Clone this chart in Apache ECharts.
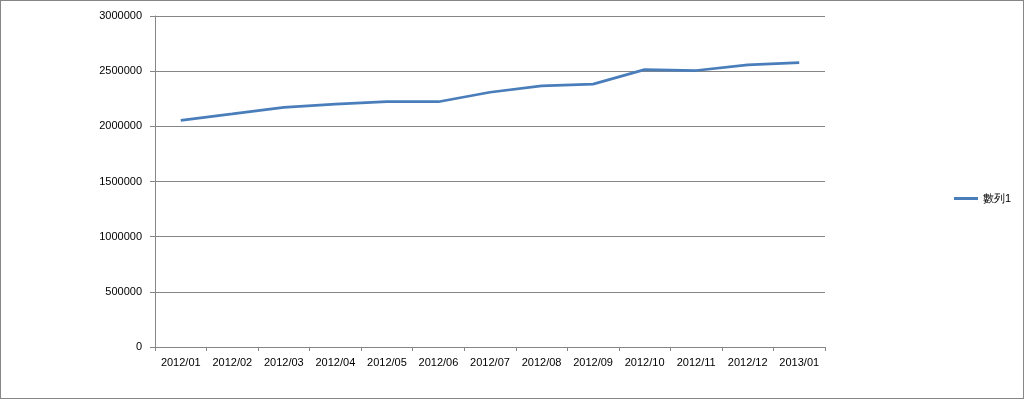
<!DOCTYPE html>
<html>
<head>
<meta charset="utf-8">
<script src="https://cdn.jsdelivr.net/npm/echarts@6/dist/echarts.min.js"></script>
<style>
html,body{margin:0;padding:0;background:#fff;}
#c{width:1022px;height:397px;border:1px solid #868686;}
</style>
</head>
<body>
<div id="c"></div>
<script>
const categories = ['2012/01','2012/02','2012/03','2012/04','2012/05','2012/06','2012/07','2012/08','2012/09','2012/10','2012/11','2012/12','2013/01'];
const seriesName = '數列1';
const values = [2055000, 2112000, 2172000, 2202000, 2223000, 2223000, 2309000, 2366000, 2382000, 2514000, 2506000, 2557000, 2578000];
const yTicks = [0, 500000, 1000000, 1500000, 2000000, 2500000, 3000000];

const chart = echarts.init(document.getElementById('c'));
const font = 'Liberation Sans, Arial, sans-serif';
chart.setOption({
  animation: false,
  grid: {left: 154, right: 198, top: 15, bottom: 51, containLabel: false},
  legend: {
    show: true,
    left: 948, top: 187,
    orient: 'vertical',
    icon: 'rect', itemWidth: 24, itemHeight: 3, itemGap: 4,
    textStyle: {fontFamily: font, fontSize: 11, color: '#000'},
    data: [seriesName]
  },
  xAxis: {
    type: 'category',
    data: categories,
    boundaryGap: true,
    axisLine: {lineStyle: {color: '#868686', width: 1}},
    axisTick: {show: true, length: 4, inside: false, alignWithLabel: false, lineStyle: {color: '#868686'}},
    axisLabel: {fontFamily: font, fontSize: 11, color: '#000', margin: 10, interval: 0},
    splitLine: {show: false}
  },
  yAxis: {
    type: 'value',
    min: yTicks[0], max: yTicks[yTicks.length - 1], interval: 500000,
    axisLine: {show: true, lineStyle: {color: '#868686', width: 1}},
    axisTick: {show: true, length: 5, lineStyle: {color: '#868686'}},
    axisLabel: {fontFamily: font, fontSize: 11, color: '#000', margin: 13, formatter: v => String(v)},
    splitLine: {show: true, lineStyle: {color: '#868686', width: 1}}
  },
  series: [{
    name: seriesName,
    type: 'line',
    data: values,
    symbol: 'none',
    smooth: false,
    lineStyle: {color: '#4a7ebb', width: 2.75},
    itemStyle: {color: '#4a7ebb'}
  }]
});
</script>
</body>
</html>
